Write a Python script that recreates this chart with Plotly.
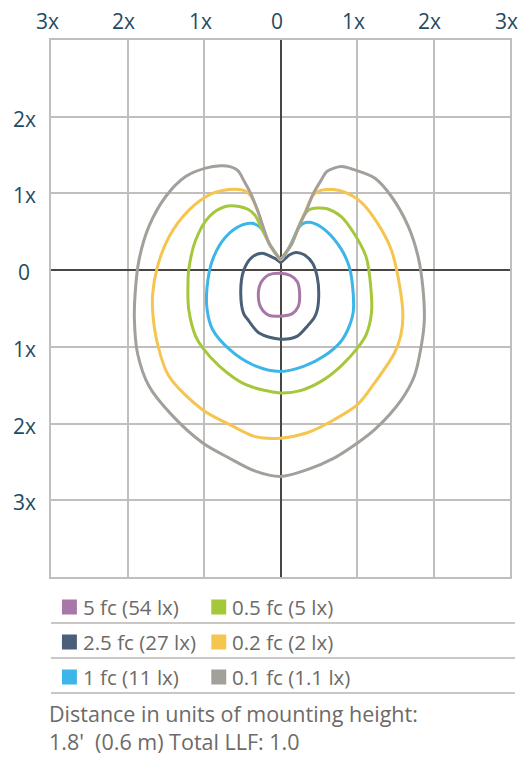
import plotly.graph_objects as go

# ---------------- data ----------------
LEVEL_LABELS = ["5 fc (54 lx)", "2.5 fc (27 lx)", "1 fc (11 lx)",
                "0.5 fc (5 lx)", "0.2 fc (2 lx)", "0.1 fc (1.1 lx)"]
LEVEL_COLORS = ["#a677a7", "#4a5f78", "#3cb5e8", "#a5c73a", "#f5c550", "#a39f9b"]

X_TICK_VALS = [-3, -2, -1, 0, 1, 2, 3]
X_TICK_TEXT = ["3x", "2x", "1x", "0", "1x", "2x", "3x"]
Y_TICK_VALS = [2, 1, 0, -1, -2, -3]
Y_TICK_TEXT = ["2x", "1x", "0", "1x", "2x", "3x"]
Y_GRID_VALS = [-4, -3, -2, -1, 0, 1, 2, 3]

# contour: 5 fc
c5_x = [0, 0.13, 0.22, 0.25, 0.23, 0.15, 0, -0.15, -0.26, -0.29, -0.26, -0.15, 0]
c5_y = [-0.04, -0.07, -0.15, -0.30, -0.48, -0.57, -0.60, -0.59, -0.48, -0.30, -0.17, -0.06, -0.04]

# contour: 2.5 fc
c25_x = [0, 0.06, 0.12, 0.20, 0.31, 0.42, 0.48, 0.50, 0.48, 0.44, 0.35, 0.22, 0,
         -0.28, -0.43, -0.48, -0.52, -0.48, -0.37, -0.24, -0.11, -0.05, 0]
c25_y = [0.10, 0.15, 0.20, 0.23, 0.20, 0.09, -0.09, -0.30, -0.52, -0.62, -0.73, -0.86, -0.90,
         -0.82, -0.64, -0.57, -0.30, 0.0, 0.17, 0.22, 0.17, 0.14, 0.10]

# contour: 1 fc
c1_x = [0, 0.05, 0.10, 0.15, 0.22, 0.27, 0.33, 0.44, 0.61, 0.79, 0.90, 0.95, 0.95, 0.90, 0.79, 0.57, 0.31, 0,
        -0.37, -0.67, -0.89, -0.96, -0.96, -0.89, -0.72, -0.50, -0.37, -0.28, -0.22, -0.15, -0.10, -0.05, 0]
c1_y = [0.14, 0.20, 0.27, 0.37, 0.52, 0.59, 0.62, 0.61, 0.50, 0.28, 0.04, -0.30, -0.55, -0.73, -0.93, -1.12, -1.25, -1.32,
        -1.23, -1.03, -0.77, -0.51, -0.22, 0.13, 0.43, 0.59, 0.61, 0.57, 0.50, 0.35, 0.27, 0.20, 0.14]

# contour: 0.5 fc
c05_x = [0, 0.05, 0.10, 0.15, 0.24, 0.31, 0.38, 0.48, 0.61, 0.79, 0.96, 1.12, 1.18, 1.19, 1.12, 1.01, 0.79, 0.53, 0.26, 0,
         -0.46, -0.80, -1.02, -1.11, -1.20, -1.21, -1.20, -1.11, -0.93, -0.72, -0.54, -0.42, -0.33, -0.26, -0.15, -0.10, -0.05, 0]
c05_y = [0.14, 0.20, 0.27, 0.35, 0.57, 0.72, 0.79, 0.81, 0.80, 0.70, 0.48, 0.17, -0.22, -0.55, -0.84, -1.01, -1.25, -1.45, -1.57, -1.60,
         -1.49, -1.25, -1.01, -0.86, -0.51, -0.20, 0.0, 0.39, 0.70, 0.83, 0.83, 0.79, 0.71, 0.57, 0.35, 0.27, 0.20, 0.14]

# contour: 0.2 fc
c02_x = [0, 0.05, 0.10, 0.15, 0.24, 0.34, 0.42, 0.50, 0.60, 0.70, 0.83, 1.05, 1.27, 1.45, 1.56, 1.60, 1.57, 1.49, 1.23, 1.01, 0.70, 0.35, 0,
         -0.33, -0.67, -1.02, -1.46, -1.61, -1.67, -1.67, -1.61, -1.46, -1.20, -0.89, -0.67, -0.54, -0.46, -0.39, -0.30, -0.23, -0.15, -0.10, -0.05, 0]
c02_y = [0.14, 0.20, 0.27, 0.35, 0.57, 0.80, 0.97, 1.03, 1.05, 1.05, 1.02, 0.89, 0.61, 0.26, -0.22, -0.60, -0.86, -1.08, -1.47, -1.75, -1.95, -2.12, -2.19,
         -2.17, -2.01, -1.82, -1.38, -0.95, -0.55, -0.30, 0.04, 0.43, 0.78, 1.00, 1.05, 1.05, 1.03, 0.97, 0.78, 0.57, 0.35, 0.27, 0.20, 0.14]

# contour: 0.1 fc
c01_x = [0, 0.05, 0.10, 0.15, 0.24, 0.34, 0.43, 0.53, 0.60, 0.70, 0.80, 0.96, 1.23, 1.45, 1.67, 1.80, 1.86, 1.88, 1.84, 1.75, 1.58, 1.23, 1.01, 0.70, 0.35, 0,
         -0.33, -0.67, -1.02, -1.41, -1.72, -1.87, -1.91, -1.90, -1.85, -1.72, -1.50, -1.24, -0.98, -0.78, -0.66, -0.56, -0.48, -0.39, -0.30, -0.23, -0.15, -0.10, -0.05, 0]
c01_y = [0.15, 0.20, 0.27, 0.35, 0.57, 0.78, 1.00, 1.17, 1.28, 1.33, 1.35, 1.31, 1.20, 0.96, 0.57, 0.17, -0.22, -0.65, -0.99, -1.38, -1.69, -2.08, -2.25, -2.45, -2.60, -2.69,
         -2.62, -2.45, -2.25, -1.90, -1.51, -1.08, -0.65, -0.30, 0.13, 0.57, 0.96, 1.22, 1.33, 1.36, 1.35, 1.30, 1.17, 1.00, 0.78, 0.57, 0.35, 0.27, 0.20, 0.15]

CONTOURS = [(c5_x, c5_y), (c25_x, c25_y), (c1_x, c1_y), (c05_x, c05_y), (c02_x, c02_y), (c01_x, c01_y)]

FOOTER_LINES = ["Distance in units of mounting height:", "1.8'  (0.6 m) Total LLF: 1.0"]

# ---------------- figure ----------------
W, H = 522, 757
ML, MR, MT, MB = 51, 10, 40, 180
PW = W - ML - MR
PH = H - MT - MB

def px_x(x):
    return (x - ML) / PW

def px_y(y):
    return (H - MB - y) / PH

FONT = "Open Sans"
TICK_COLOR = "#1f4b62"
TEXT_COLOR = "#6d6a67"
GRID_COLOR = "#c2bebb"
AXIS_COLOR = "#4a4644"

fig = go.Figure()
for (cx, cy), name, col in zip(CONTOURS, LEVEL_LABELS, LEVEL_COLORS):
    fig.add_trace(go.Scatter(x=cx, y=cy, mode="lines", name=name,
                             line=dict(color=col, width=3, shape="spline", smoothing=0.9),
                             showlegend=False, hoverinfo="skip"))

annotations = []
for v, t in zip(X_TICK_VALS, X_TICK_TEXT):
    annotations.append(dict(x=v, xref="x", y=1, yref="paper", text=t, showarrow=False,
                            xanchor="center", yanchor="middle", xshift=-4, yshift=19,
                            font=dict(family=FONT, size=21, color=TICK_COLOR)))
for v, t in zip(Y_TICK_VALS, Y_TICK_TEXT):
    annotations.append(dict(x=0, xref="paper", y=v, yref="y", text=t, showarrow=False,
                            xanchor="center", yanchor="middle", xshift=-27, yshift=-2,
                            font=dict(family=FONT, size=21, color=TICK_COLOR)))

shapes = []
# legend
for i, (name, col) in enumerate(zip(LEVEL_LABELS, LEVEL_COLORS)):
    col_i, row_i = i // 3, i % 3
    cy = 607 + row_i * 35
    sx = 62 + col_i * 150
    shapes.append(dict(type="rect", xref="paper", yref="paper",
                       x0=px_x(sx), x1=px_x(sx + 15), y0=px_y(cy - 7.5), y1=px_y(cy + 7.5),
                       fillcolor=col, line=dict(width=0)))
    annotations.append(dict(x=px_x(sx + 19), xref="paper", y=px_y(cy), yref="paper",
                            text=name, showarrow=False, xanchor="left", yanchor="middle",
                            font=dict(family=FONT, size=20.5, color=TEXT_COLOR)))
for r in range(3):
    ly = 623 + r * 35
    shapes.append(dict(type="line", xref="paper", yref="paper",
                       x0=px_x(51), x1=px_x(517), y0=px_y(ly), y1=px_y(ly),
                       line=dict(color="#b9b5b2", width=1.5)))

for j, txt in enumerate(FOOTER_LINES):
    annotations.append(dict(x=px_x(48), xref="paper", y=px_y(713 + 28 * j), yref="paper",
                            text=txt, showarrow=False, xanchor="left", yanchor="middle",
                            borderpad=0,
                            font=dict(family=FONT, size=21.5, color=TEXT_COLOR)))

fig.update_layout(
    width=W, height=H,
    margin=dict(l=ML, r=MR, t=MT, b=MB, pad=0),
    paper_bgcolor="white", plot_bgcolor="white",
    showlegend=False,
    annotations=annotations,
    shapes=shapes,
    xaxis=dict(range=[-3, 3], tickvals=X_TICK_VALS, showticklabels=False,
               showgrid=True, gridcolor=GRID_COLOR, gridwidth=1.5,
               zeroline=True, zerolinecolor=AXIS_COLOR, zerolinewidth=1.5,
               showline=True, mirror=True, linecolor=GRID_COLOR, linewidth=1.5,
               ticks="", fixedrange=True),
    yaxis=dict(range=[-4, 3], tickvals=Y_GRID_VALS, showticklabels=False,
               showgrid=True, gridcolor=GRID_COLOR, gridwidth=1.5,
               zeroline=True, zerolinecolor=AXIS_COLOR, zerolinewidth=1.5,
               showline=True, mirror=True, linecolor=GRID_COLOR, linewidth=1.5,
               ticks="", fixedrange=True),
)

fig.write_html("out.html", config={"displayModeBar": False},
               post_script="document.body.style.margin='0';document.body.style.padding='0';")
